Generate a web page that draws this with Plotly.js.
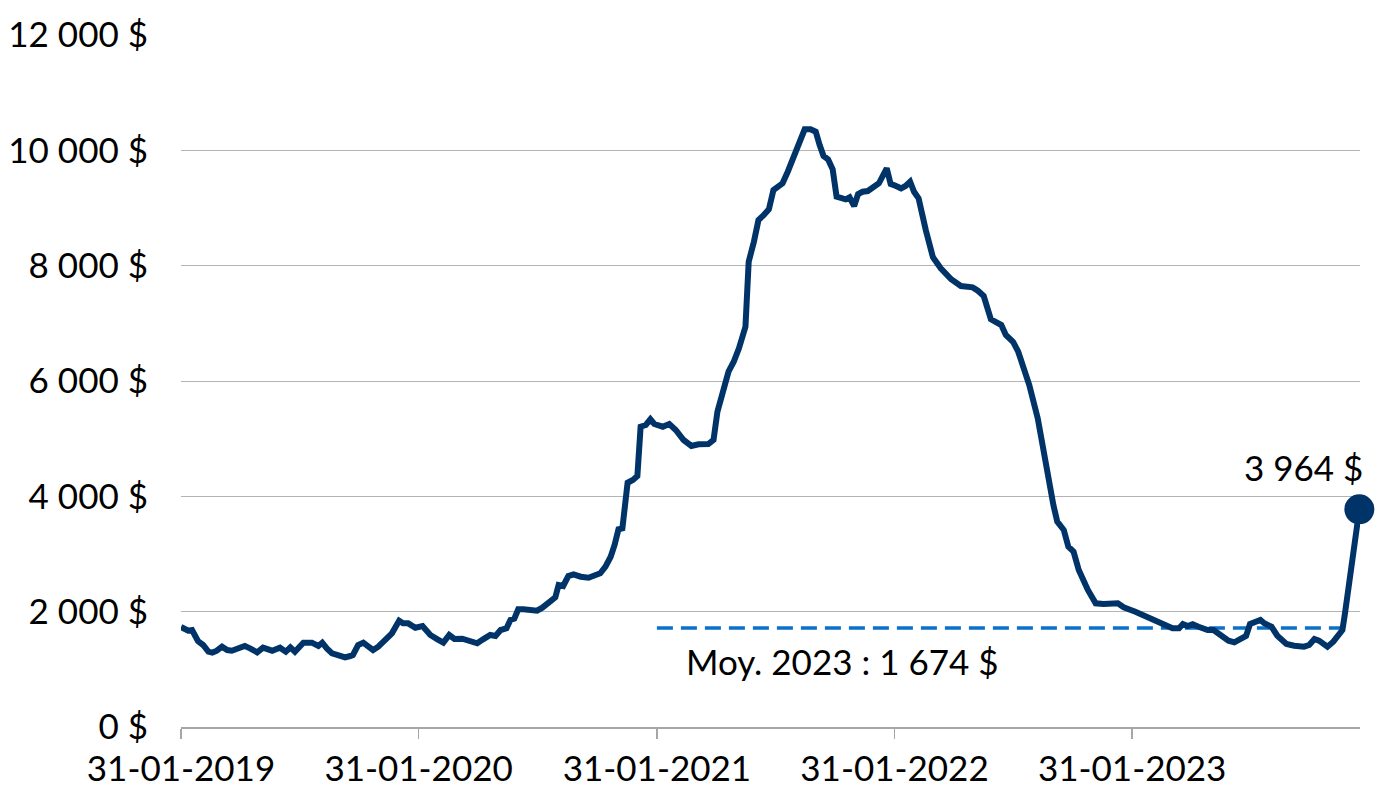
<!DOCTYPE html>
<html>
<head>
<meta charset="utf-8">
<script src="https://cdn.plot.ly/plotly-3.0.1.min.js"></script>
<style>
html,body{margin:0;padding:0;background:#fff;}
#chart{width:1380px;height:800px;}
</style>
</head>
<body>
<div id="chart"></div>
<script>
const dates = [
"2019-01-31","2019-02-11","2019-02-17","2019-02-21","2019-02-26","2019-03-06","2019-03-14","2019-03-20","2019-03-27","2019-04-04",
"2019-04-12","2019-04-19","2019-04-29","2019-05-09","2019-05-17","2019-05-28","2019-06-06","2019-06-20","2019-07-02","2019-07-11",
"2019-07-18","2019-07-25","2019-08-07","2019-08-20","2019-08-30","2019-09-05","2019-09-12","2019-09-20","2019-09-29","2019-10-10",
"2019-10-18","2019-10-22","2019-10-30","2019-11-07","2019-11-15","2019-11-22","2019-11-30","2019-12-06","2019-12-21","2020-01-01",
"2020-01-07","2020-01-15","2020-01-26","2020-02-06","2020-02-18","2020-02-29","2020-03-09","2020-03-18","2020-03-26","2020-04-07",
"2020-04-16","2020-04-30","2020-05-09","2020-05-20","2020-05-28","2020-06-05","2020-06-14","2020-06-20","2020-06-26","2020-07-02",
"2020-07-10","2020-07-21","2020-07-31","2020-08-08","2020-08-17","2020-08-28","2020-09-02","2020-09-09","2020-09-17","2020-09-25",
"2020-10-06","2020-10-18","2020-10-29","2020-11-05","2020-11-13","2020-11-21","2020-11-27","2020-12-03","2020-12-09","2020-12-17",
"2020-12-25","2021-01-01","2021-01-06","2021-01-14","2021-01-21","2021-01-27","2021-02-09","2021-02-19","2021-03-01","2021-03-13",
"2021-03-25","2021-04-05","2021-04-20","2021-04-28","2021-05-04","2021-05-10","2021-05-17","2021-05-21","2021-05-29","2021-06-06",
"2021-06-16","2021-06-21","2021-06-29","2021-07-06","2021-07-14","2021-07-22","2021-07-29","2021-08-05","2021-08-12","2021-08-20",
"2021-08-29","2021-09-06","2021-09-15","2021-09-24","2021-10-02","2021-10-08","2021-10-14","2021-10-21","2021-10-28","2021-11-03",
"2021-11-10","2021-11-17","2021-11-23","2021-11-30","2021-12-06","2021-12-13","2021-12-21","2021-12-30","2022-01-07","2022-01-19",
"2022-01-25","2022-01-30","2022-02-10","2022-02-17","2022-02-24","2022-03-02","2022-03-09","2022-03-20","2022-03-31","2022-04-12",
"2022-04-28","2022-05-13","2022-05-31","2022-06-08","2022-06-17","2022-06-28","2022-07-07","2022-07-14","2022-07-21","2022-08-01",
"2022-08-09","2022-08-18","2022-08-26","2022-09-08","2022-09-16","2022-09-24","2022-10-02","2022-10-08","2022-10-18","2022-10-25",
"2022-11-02","2022-11-10","2022-11-24","2022-12-06","2022-12-18","2023-01-09","2023-01-18","2023-02-05","2023-02-21","2023-03-08",
"2023-03-20","2023-04-03","2023-04-13","2023-04-19","2023-04-26","2023-05-04","2023-05-13","2023-05-27","2023-06-05","2023-06-17",
"2023-06-28","2023-07-07","2023-07-18","2023-07-25","2023-07-31","2023-08-08","2023-08-16","2023-08-22","2023-09-02","2023-09-11",
"2023-09-25","2023-10-07","2023-10-22","2023-10-30","2023-11-07","2023-11-14","2023-11-27","2023-12-06","2023-12-14","2023-12-20",
"2023-12-24","2024-01-03","2024-01-10","2024-01-15"
];
const prices = [
1734,1670,1682,1612,1491,1422,1306,1290,1323,1393,
1335,1323,1375,1405,1364,1295,1375,1323,1375,1306,
1382,1306,1462,1462,1405,1462,1364,1278,1248,1208,
1231,1248,1422,1462,1393,1335,1393,1451,1625,1843,
1798,1798,1722,1751,1595,1520,1462,1595,1526,1531,
1509,1451,1520,1595,1578,1682,1711,1855,1878,2041,
2041,2017,2017,2069,2156,2250,2462,2445,2618,2647,
2606,2589,2636,2665,2780,2953,3156,3428,3445,4236,
4283,4352,5207,5237,5335,5254,5207,5254,5150,4977,
4873,4902,4907,4977,5468,5700,6050,6161,6334,6566,
6941,8068,8415,8791,8878,8977,9312,9358,9428,9629,
9889,10092,10364,10364,10322,10092,9901,9843,9670,9196,
9167,9150,9185,9034,9242,9282,9294,9369,9428,9688,
9416,9398,9341,9381,9456,9282,9167,8618,8145,7954,
7763,7647,7624,7566,7474,7070,7028,6971,6797,6681,
6508,6190,5930,5353,4861,4226,3850,3560,3416,3127,
3040,2722,2376,2145,2133,2145,2076,2000,1913,1826,
1786,1711,1711,1786,1751,1781,1739,1682,1682,1578,
1497,1468,1520,1578,1786,1809,1855,1798,1739,1583,
1439,1410,1393,1422,1526,1497,1393,1479,1578,1682,
1977,2780,3300,3775
];
const avgDates = ["2021-01-31","2024-01-01"];
const avgValue = 1717;
const avgLabel = "Moy. 2023 : 1 674 $";
const lastLabel = "3 964 $";
const yTickVals = [0,2000,4000,6000,8000,10000,12000];
const yTickText = ["0 $","2 000 $","4 000 $","6 000 $","8 000 $","10 000 $","12 000 $"];
const xTickVals = ["2019-01-31","2020-01-31","2021-01-31","2022-01-31","2023-01-31"];
const xTickText = ["31-01-2019","31-01-2020","31-01-2021","31-01-2022","31-01-2023"];

const FONT = "Lato, 'Open Sans', sans-serif";
const FS = 35;
const navy = "#003469";

const traces = [
  {
    x: avgDates, y: [avgValue, avgValue], type: "scatter", mode: "lines",
    line: {color: "#0A70C8", width: 3.5, dash: "16px,8px"}, hoverinfo: "skip"
  },
  {
    x: dates, y: prices, type: "scatter", mode: "lines", cliponaxis: false,
    line: {color: navy, width: 6, shape: "linear"}, hoverinfo: "skip"
  },
  {
    x: [dates[dates.length-1]], y: [prices[prices.length-1]], type: "scatter", mode: "markers",
    cliponaxis: false,
    marker: {color: navy, size: 30}, hoverinfo: "skip"
  }
];

const layout = {
  width: 1380, height: 800,
  margin: {l: 181, r: 20, t: 35, b: 73},
  paper_bgcolor: "#fff", plot_bgcolor: "#fff",
  showlegend: false,
  font: {family: FONT, size: FS, color: "#000"},
  xaxis: {
    type: "date",
    range: ["2019-01-31", "2024-01-16"],
    tickvals: xTickVals, ticktext: xTickText,
    showgrid: false, zeroline: false,
    showline: true, linecolor: "#a6a6a6", linewidth: 1.5,
    ticks: "outside", ticklen: 10, tickwidth: 1.5, tickcolor: "#a6a6a6",
    tickfont: {family: FONT, size: FS, color: "#000"},
    fixedrange: true
  },
  yaxis: {
    range: [0, 12000],
    tickvals: yTickVals, ticktext: yTickText,
    showgrid: true, gridcolor: "#b4b4b4", gridwidth: 1,
    zeroline: false, showline: false, ticks: "",
    ticklabelstandoff: 32,
    tickfont: {family: FONT, size: FS, color: "#000"},
    fixedrange: true
  },
  annotations: [
    {
      x: dates[dates.length-1], y: 4508, xref: "x", yref: "y",
      text: lastLabel, showarrow: false, xanchor: "right", yanchor: "middle", xshift: 6,
      font: {family: FONT, size: FS, color: "#000"}
    },
    {
      x: "2021-03-13", y: 1144, xref: "x", yref: "y",
      text: avgLabel, showarrow: false, xanchor: "left", yanchor: "middle",
      font: {family: FONT, size: FS, color: "#000"}
    }
  ]
};

Plotly.newPlot("chart", traces, layout, {displayModeBar: false, staticPlot: true});
</script>
</body>
</html>
